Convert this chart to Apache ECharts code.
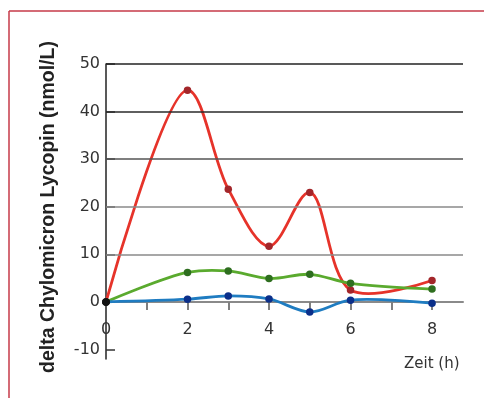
<!DOCTYPE html>
<html>
<head>
<meta charset="utf-8">
<script src="https://cdn.jsdelivr.net/npm/echarts@6/dist/echarts.min.js"></script>
<style>html,body{margin:0;padding:0;background:#fff}#c{width:484px;height:398px}</style>
</head>
<body>
<div id="c"></div>
<script>
var times = [0, 2, 3, 4, 5, 6, 8];
var redVals = [0, 44.5, 23.7, 11.7, 23.0, 2.5, 4.5];
var greenVals = [0, 6.2, 6.5, 4.9, 5.8, 3.9, 2.7];
var blueVals = [0, 0.57, 1.26, 0.63, -2.1, 0.36, -0.27];
var yTicks = [-10, 0, 10, 20, 30, 40, 50];
var xTicks = [1, 2, 3, 4, 5, 6, 7, 8];
var xLabels = [0, 2, 4, 6, 8];
var gridVals = [0, 10, 20, 30, 40, 50];
var gridColors = ['#8a8a8a', '#8a8a8a', '#8a8a8a', '#555', '#2a2a2a', '#222'];

function pairs(vals) {
  return vals.map(function (v, i) { return [times[i], v]; });
}
var FONT = 'DejaVu Sans';
var chart = echarts.init(document.getElementById('c'));

// Centripetal Catmull-Rom curve through the data points (pixel positions from the axis scales)
function curveSeries(vals, color, z) {
  return {
    type: 'custom', z: z, silent: true, animation: false,
    data: pairs(vals),
    encode: { x: 0, y: 1 },
    renderItem: function (params, api) {
      if (params.dataIndex !== 0) return null;
      var P = vals.map(function (v, i) { return api.coord([times[i], v]); });
      var n = P.length, d = 'M' + P[0][0] + ' ' + P[0][1];
      function dist(a, b) { return a && b ? Math.hypot(a[0] - b[0], a[1] - b[1]) : 0; }
      for (var i = 0; i < n - 1; i++) {
        var p0 = i > 0 ? P[i - 1] : null, p1 = P[i], p2 = P[i + 1], p3 = i + 2 < n ? P[i + 2] : null;
        var l01a = Math.sqrt(dist(p0, p1)), l12a = Math.sqrt(dist(p1, p2)), l23a = Math.sqrt(dist(p2, p3));
        var l01_2a = l01a * l01a, l12_2a = l12a * l12a, l23_2a = l23a * l23a;
        var c1x = p1[0], c1y = p1[1], c2x = p2[0], c2y = p2[1];
        if (l01a > 1e-9) {
          var a = 2 * l01_2a + 3 * l01a * l12a + l12_2a, nn = 3 * l01a * (l01a + l12a);
          c1x = (p1[0] * a - p0[0] * l12_2a + p2[0] * l01_2a) / nn;
          c1y = (p1[1] * a - p0[1] * l12_2a + p2[1] * l01_2a) / nn;
        }
        if (l23a > 1e-9) {
          var b = 2 * l23_2a + 3 * l23a * l12a + l12_2a, m = 3 * l23a * (l23a + l12a);
          c2x = (p2[0] * b + p1[0] * l23_2a - p3[0] * l12_2a) / m;
          c2y = (p2[1] * b + p1[1] * l23_2a - p3[1] * l12_2a) / m;
        }
        d += ' C' + c1x + ' ' + c1y + ' ' + c2x + ' ' + c2y + ' ' + p2[0] + ' ' + p2[1];
      }
      return { type: 'path', shape: { pathData: d }, style: { fill: null, stroke: color, lineWidth: 2.8 } };
    }
  };
}
function dotSeries(vals, color, z) {
  return {
    type: 'scatter', z: z, animation: false, symbol: 'circle', symbolSize: 7.5,
    data: pairs(vals).map(function (p, i) {
      return i === 0 ? { value: p, itemStyle: { color: '#111' } } : { value: p };
    }),
    itemStyle: { color: color, opacity: 1 }
  };
}
chart.setOption({
  animation: false,
  grid: { left: 106, right: 21, top: 64, bottom: 39 },
  xAxis: {
    type: 'value', min: 0, max: 8.76,
    axisLine: { show: true, onZero: true, lineStyle: { color: '#8a8a8a', width: 2 } },
    axisTick: { show: true, length: 8, customValues: xTicks, lineStyle: { color: '#555', width: 1.5 } },
    axisLabel: { customValues: xLabels, margin: -37, color: '#333', fontFamily: FONT, fontSize: 16 },
    splitLine: { show: false }
  },
  yAxis: {
    type: 'value', min: -12, max: 50,
    axisLine: { show: true, lineStyle: { color: '#222', width: 1.5 } },
    axisTick: { show: true, inside: true, length: 9, customValues: yTicks, lineStyle: { color: '#333', width: 1.5 } },
    axisLabel: { customValues: yTicks, margin: 6, color: '#333', fontFamily: FONT, fontSize: 16 },
    splitLine: { show: false }
  },
  graphic: [
    { type: 'line', shape: { x1: 9, y1: 11, x2: 484, y2: 11 }, style: { stroke: '#c63a48', lineWidth: 1.5 } },
    { type: 'line', shape: { x1: 9, y1: 11, x2: 9, y2: 398 }, style: { stroke: '#c63a48', lineWidth: 1.5 } },
    { type: 'text', x: 49, y: 207, rotation: Math.PI / 2,
      style: { text: 'delta Chylomicron Lycopin (nmol/L)', fill: '#222', font: 'bold 19.5px "Liberation Sans", Arial, sans-serif', textAlign: 'center', textVerticalAlign: 'middle' } },
    { type: 'text', left: 404, top: 357,
      style: { text: 'Zeit (h)', fill: '#333', font: '15px "DejaVu Sans", sans-serif' } }
  ],
  series: [
    {
      type: 'line', data: [], z: 1, silent: true,
      markLine: {
        silent: true, symbol: 'none', animation: false,
        label: { show: false },
        data: gridVals.map(function (v, i) {
          return { yAxis: v, lineStyle: { color: gridColors[i], width: 1.5, type: 'solid' } };
        })
      }
    },
    curveSeries(redVals, '#e6332a', 3),
    curveSeries(greenVals, '#5aaa2e', 4),
    curveSeries(blueVals, '#1f7cc1', 5),
    dotSeries(redVals, '#a3262a', 6),
    dotSeries(greenVals, '#2e6e1f', 7),
    dotSeries(blueVals, '#0b2f8a', 8)
  ]
});
</script>
</body>
</html>
